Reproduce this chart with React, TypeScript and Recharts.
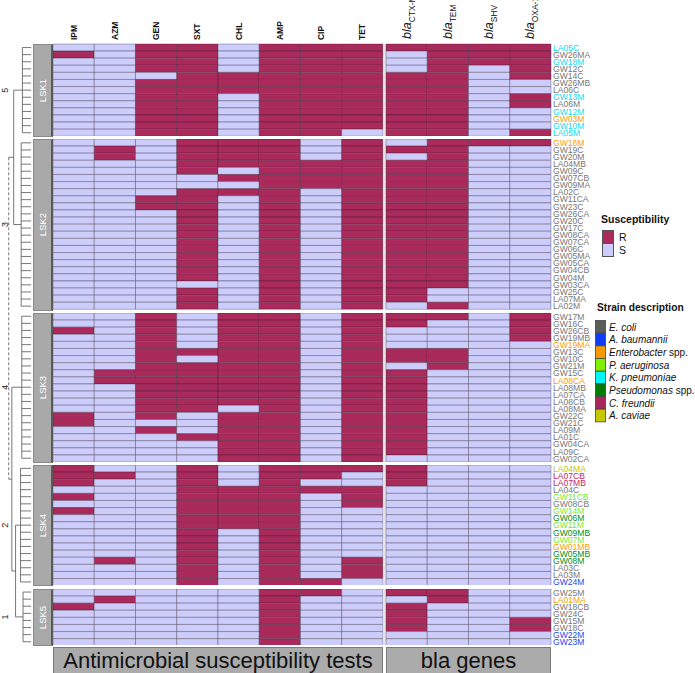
import React from 'react';
import { BarChart, Bar, XAxis, YAxis, Cell, ScatterChart, Scatter, ReferenceLine } from 'recharts';

// column order: antimicrobials first, then bla genes
const drugs = ['IPM', 'AZM', 'GEN', 'SXT', 'CHL', 'AMP', 'CIP', 'TET'];
const genes = ['CTX-M', 'TEM', 'SHV', 'OXA-1'];

const speciesKeys = ['Ec', 'Ab', 'Eb', 'Pa', 'Kp', 'Ps', 'Cf', 'Ac'];
const speciesNames = ['E. coli', 'A. baumannii', 'Enterobacter spp.', 'P. aeruginosa', 'K. pneumoniae', 'Pseudomonas spp.', 'C. freundii', 'A. caviae'];
const speciesBoxColors = ['#5c5c5c', '#0f3cf5', '#f59a00', '#7ff000', '#00f5f5', '#007d00', '#a8275a', '#c8c800'];
const speciesTextColors = ['#777777', '#1f45f0', '#f5a000', '#7fe81a', '#14dcec', '#0b8a0b', '#c0285e', '#c4c400'];

// strains per cluster (top to bottom), species code and R/S profile (drugs / genes)
const lsk1Strains = ['LA05C', 'GW26MA', 'GW18M', 'GW12C', 'GW14C', 'GW26MB', 'LA06C', 'GW13M', 'LA06M', 'GW12M', 'GW03M', 'GW10M', 'LA05M'];
const lsk1Species = ['Kp', 'Ec', 'Kp', 'Ec', 'Ec', 'Ec', 'Ec', 'Kp', 'Ec', 'Kp', 'Eb', 'Kp', 'Kp'];
const lsk1Profiles = [
  'SSRRSRRR/RRRR', 'RSRRSRRR/SRRR', 'SSRRSRRR/SRRR', 'SSRRSRRR/SRSR', 'SSSRRRRR/RRSR',
  'SSRRRRRR/RRSS', 'SSRRRRRR/RRSS', 'SSRRSRRR/RRSR', 'SSRRSRRR/RRSR', 'SSRRSRRR/RRSS',
  'SSRRSRRR/RRSS', 'SSRRSRRR/RRSS', 'SSRRSRRS/RRSR',
];

const lsk2Strains = ['GW16M', 'GW19C', 'GW20M', 'LA04MB', 'GW09C', 'GW07CB', 'GW09MA', 'LA02C', 'GW11CA', 'GW23C', 'GW26CA', 'GW20C', 'GW17C', 'GW08CA', 'GW07CA', 'GW06C', 'GW05MA', 'GW05CA', 'GW04CB', 'GW04M', 'GW03CA', 'GW25C', 'LA07MA', 'LA02M'];
const lsk2Species = ['Eb', 'Ec', 'Ec', 'Ec', 'Ec', 'Ec', 'Ec', 'Ec', 'Ec', 'Ec', 'Ec', 'Ec', 'Ec', 'Ec', 'Ec', 'Ec', 'Ec', 'Ec', 'Ec', 'Ec', 'Ec', 'Ec', 'Ec', 'Ec'];
const lsk2Profiles = [
  'SSSRRRSR/SRRR', 'SRSRRRSR/RRSS', 'SRSRRRSR/SRSS', 'SSSRRRRR/RRSS', 'SSSRSRRR/RRSS',
  'SSSSRRRR/RRSS', 'SSSSSRRR/RRSS', 'SSSRRRSR/RRSS', 'SSRRSRSR/RRSS', 'SSRRSRSR/RRSS',
  'SSSRSRSR/RRSS', 'SSSRSRSR/RRSS', 'SSSRSRSR/RRSS', 'SSSRSRSR/RRSS', 'SSSRSRSR/RRSS',
  'SSSRSRSR/RRSS', 'SSSRSRSR/RRSS', 'SSSRSRSR/RRSS', 'SSSRSRSR/RRSS', 'SSSRSRSR/RRSS',
  'SSSSSRSR/RRSS', 'SSSRSRSR/RSSS', 'SSSRSRSR/RSSS', 'SSSRSRSR/SRSS',
];

const lsk3Strains = ['GW17M', 'GW16C', 'GW26CB', 'GW19MB', 'GW19MA', 'GW13C', 'GW10C', 'GW21M', 'GW15C', 'LA08CA', 'LA08MB', 'LA07CA', 'LA08CB', 'LA08MA', 'GW22C', 'GW21C', 'LA09M', 'LA01C', 'GW04CA', 'LA09C', 'GW02CA'];
const lsk3Species = ['Ec', 'Ec', 'Ec', 'Ec', 'Eb', 'Ec', 'Ec', 'Ec', 'Ec', 'Eb', 'Ec', 'Ec', 'Ec', 'Ec', 'Ec', 'Ec', 'Ec', 'Ec', 'Ec', 'Ec', 'Ec'];
const lsk3Profiles = [
  'SSRSRRSR/RRSR', 'SSRSRRSR/RSSR', 'RSRSRRSR/SSSR', 'SSRSRRSR/SSSR', 'SSRSRRSR/SSSS',
  'SSRRRRSR/RRSS', 'SSRSRRSR/RRSS', 'SSRRRRSR/SRSS', 'SRRRRRSR/RSSS', 'SRRRRRSR/RSSS',
  'SSRRRRSR/RSSS', 'SSRRRRSR/RSSS', 'SSRRRRSR/RSSS', 'SSRRSRSR/RSSS', 'RSRSRRSR/RSSS',
  'RSSSRRSR/RSSS', 'SSRSRRSR/RSSS', 'SSSRRRSR/RSSS', 'SSSSRRSR/RSSS', 'SSSSRRSR/RSSS',
  'SSSSRRSR/SSSS',
];

const lsk4Strains = ['LA04MA', 'LA07CB', 'LA07MB', 'LA04C', 'GW11CB', 'GW08CB', 'GW14M', 'GW06M', 'GW11M', 'GW09MB', 'GW07M', 'GW01MB', 'GW05MB', 'GW08M', 'LA03C', 'LA03M', 'GW24M'];
const lsk4Species = ['Ac', 'Cf', 'Cf', 'Ec', 'Pa', 'Ec', 'Pa', 'Ps', 'Pa', 'Ps', 'Pa', 'Eb', 'Ps', 'Ps', 'Ec', 'Ec', 'Ab'];
const lsk4Profiles = [
  'RSSRSRRR/RSSS', 'RRSRSRRS/RSSS', 'RSSRSRSS/RSSS', 'SSSRRRRR/SSSS', 'RSSRRRSR/SSSS',
  'SSSRRRSR/SSSS', 'RSSRRRSS/SSSS', 'SSSRRRSS/SSSS', 'SSSRRRSS/SSSS', 'SSSRSRSS/SSSS',
  'SSSRSRSS/SSSS', 'SSSRSRSS/SSSS', 'SSSRSRSS/SSSS', 'SRSRSRSR/SSSS', 'SSSRSRSR/SSSS',
  'SSSRSRSR/SSSS', 'SSSRSRRS/SSSS',
];

const lsk5Strains = ['GW25M', 'LA01MA', 'GW18CB', 'GW24C', 'GW15M', 'GW18C', 'GW22M', 'GW23M'];
const lsk5Species = ['Ec', 'Eb', 'Ec', 'Ec', 'Ec', 'Ec', 'Ab', 'Ab'];
const lsk5Profiles = [
  'SSSSSRRS/RRSS', 'SRSSSRSS/SRSS', 'RSSSSRSS/RSSS', 'SSSSSRSS/RSSS', 'SSSSSRSS/RSSR',
  'SSSSSRSS/RSSR', 'SSSSSRSS/SSSS', 'SSSSSRSS/SSSS',
];

// cluster number shown on the dendrogram, per LSK cluster
const clusterLabels = ['LSK1', 'LSK2', 'LSK3', 'LSK4', 'LSK5'];
const clusterNumbers = ['5', '3', '4', '2', '1'];
// merge heights: inside each cluster, then between clusters
const clusterHeights = [2.8, 3.2, 3.0, 3.4, 2.6];
const joinHeights = { lsk12: 5.6, lsk45: 5.0, lsk345: 6.2, root: 7.2 };
const TAG_H = 8.5;

const RED = '#aa2a5b';
const LAV = '#cdcdfc';
const GAP = 0.075; // spacer between the two blocks, in cell widths
const ROW_H = 7.1;
const CL_GAP = 3;
const HEADER_H = 44;
const HEAT_LEFT = 53;
const HEAT_W = 498;
const LABEL_W = 44;
const FONT = '"Liberation Sans", Arial, Helvetica, sans-serif';

const clusters = [
  { strains: lsk1Strains, species: lsk1Species, profiles: lsk1Profiles },
  { strains: lsk2Strains, species: lsk2Species, profiles: lsk2Profiles },
  { strains: lsk3Strains, species: lsk3Species, profiles: lsk3Profiles },
  { strains: lsk4Strains, species: lsk4Species, profiles: lsk4Profiles },
  { strains: lsk5Strains, species: lsk5Species, profiles: lsk5Profiles },
];

const speciesOf: Record<string, string> = {};
clusters.forEach((c) => c.strains.forEach((s, i) => (speciesOf[s] = c.species[i])));

const clusterTops: number[] = [];
clusters.reduce((y, c) => {
  clusterTops.push(y);
  return y + c.strains.length * ROW_H + CL_GAP;
}, HEADER_H);

const colCenters = [
  ...drugs.map((_, i) => i + 0.5),
  ...genes.map((_, i) => drugs.length + GAP + i + 0.5),
];

const HeaderTick = (props: any) => {
  const { x, y, payload } = props;
  let idx = 0;
  colCenters.forEach((c, i) => {
    if (Math.abs(c - payload.value) < Math.abs(colCenters[idx] - payload.value)) idx = i;
  });
  if (idx < drugs.length) {
    return (
      <text x={x} y={y} transform={`rotate(-90 ${x} ${y})`} textAnchor="start" dominantBaseline="central"
        fontSize={8.5} fontWeight="bold" fill="#111">{drugs[idx]}</text>
    );
  }
  return (
    <text x={x} y={y - 1} transform={`rotate(-90 ${x} ${y - 1})`} textAnchor="start" dominantBaseline="central" fill="#111">
      <tspan fontStyle="italic" fontSize={12.5}>bla</tspan>
      <tspan fontSize={8.5} baselineShift="sub">{genes[idx - drugs.length]}</tspan>
    </text>
  );
};

const StrainTick = (props: any) => {
  const { x, y, payload } = props;
  const k = speciesKeys.indexOf(speciesOf[payload.value]);
  return (
    <text x={x} y={y} dy="0.36em" textAnchor="start" fontSize={8.6} fill={speciesTextColors[k]}>{payload.value}</text>
  );
};

function ClusterHeat({ index }: { index: number }) {
  const c = clusters[index];
  const first = index === 0;
  const data = c.strains.map((name, r) => {
    const row: any = { name, gap: GAP };
    const cells = c.profiles[r].replace('/', '');
    for (let k = 0; k < cells.length; k++) row['c' + k] = 1;
    return row;
  });
  const height = c.strains.length * ROW_H + (first ? HEADER_H : 0);
  const cellColor = (r: number, k: number) => (c.profiles[r].replace('/', '')[k] === 'R' ? RED : LAV);
  const bars = (from: number, to: number) =>
    Array.from({ length: to - from }, (_, j) => from + j).map((k) => (
      <Bar key={k} dataKey={'c' + k} stackId="s" isAnimationActive={false}
        stroke="#2a1a2e" strokeOpacity={0.45} strokeWidth={0.7}>
        {data.map((_, r) => <Cell key={r} fill={cellColor(r, k)} />)}
      </Bar>
    ));
  return (
    <div style={{ position: 'absolute', left: HEAT_LEFT, top: first ? 0 : clusterTops[index] }}>
      <BarChart layout="vertical" width={HEAT_W + LABEL_W} height={height} data={data}
        margin={{ top: 0, right: 0, bottom: 0, left: 0 }} barCategoryGap={0} style={{ overflow: 'visible' }}>
        <XAxis type="number" domain={[0, drugs.length + genes.length + GAP]} hide={!first} orientation="top"
          ticks={colCenters} interval={0} height={HEADER_H} tickSize={0} tickMargin={4} axisLine={false}
          tick={<HeaderTick />} />
        <YAxis type="category" dataKey="name" orientation="right" width={LABEL_W} axisLine={false}
          tickLine={false} tickSize={0} tickMargin={2} interval={0} tick={<StrainTick />} />
        {bars(0, drugs.length)}
        <Bar dataKey="gap" stackId="s" fill="#e4e4e4" isAnimationActive={false} />
        {bars(drugs.length, drugs.length + genes.length)}
      </BarChart>
    </div>
  );
}

// dendrogram: leaf y positions share the heatmap row layout
type Node = { h: number; kids: (Node | number)[]; tag?: string; dashed?: boolean };

const leafY: number[] = [];
clusters.forEach((c, ci) => c.strains.forEach((_, r) => leafY.push(clusterTops[ci] - HEADER_H + (r + 0.5) * ROW_H)));

let offset = 0;
const clusterNodes: Node[] = clusters.map((c, ci) => {
  const kids = c.strains.map((_, r) => offset + r);
  offset += c.strains.length;
  return { h: clusterHeights[ci], kids, tag: clusterNumbers[ci] };
});
const tree: Node = {
  h: joinHeights.root,
  dashed: true,
  kids: [
    { h: joinHeights.lsk12, kids: [clusterNodes[0], clusterNodes[1]] },
    { h: joinHeights.lsk345, kids: [clusterNodes[2], { h: joinHeights.lsk45, kids: [clusterNodes[3], clusterNodes[4]] }] },
  ],
};

type Seg = { x1: number; y1: number; x2: number; y2: number; dashed?: boolean };
const segs: Seg[] = [];
const tags: { x: number; y: number; t: string }[] = [];
function walk(n: Node | number): { h: number; y: number } {
  if (typeof n === 'number') return { h: 0, y: leafY[n] };
  const pts = n.kids.map(walk);
  pts.forEach((p) => segs.push({ x1: p.h, y1: p.y, x2: n.h, y2: p.y }));
  const ys = pts.map((p) => p.y);
  segs.push({ x1: n.h, y1: Math.min(...ys), x2: n.h, y2: Math.max(...ys), dashed: n.dashed });
  const y = (Math.min(...ys) + Math.max(...ys)) / 2;
  if (n.tag) tags.push({ x: TAG_H, y, t: n.tag });
  return { h: n.h, y };
}
walk(tree);

const heatSpan = clusterTops[4] + lsk5Strains.length * ROW_H - HEADER_H;

function Dendrogram() {
  return (
    <div style={{ position: 'absolute', left: 0, top: HEADER_H }}>
      <ScatterChart width={33} height={heatSpan} margin={{ top: 0, right: 0, bottom: 0, left: 0 }}>
        <XAxis type="number" dataKey="x" domain={[-0.6, 10]} reversed hide />
        <YAxis type="number" dataKey="y" domain={[0, heatSpan]} reversed hide />
        {segs.map((s, i) => (
          <ReferenceLine key={i} segment={[{ x: s.x1, y: s.y1 }, { x: s.x2, y: s.y2 }]}
            stroke="#555" strokeWidth={0.8} strokeDasharray={s.dashed ? '3 2' : undefined} ifOverflow="visible" />
        ))}
        <Scatter data={tags} isAnimationActive={false}
          shape={(p: any) => (
            <text x={p.cx} y={p.cy} transform={`rotate(-90 ${p.cx} ${p.cy})`} textAnchor="middle"
              dominantBaseline="central" fontSize={9} fill="#222">{p.payload.t}</text>
          )} />
      </ScatterChart>
    </div>
  );
}

function ClusterBox({ index }: { index: number }) {
  const h = clusters[index].strains.length * ROW_H;
  return (
    <div style={{
      position: 'absolute', left: 33, top: clusterTops[index], width: 17, height: h - 1,
      background: '#a9a9a9', border: '1px solid #8a8a8a', borderRight: '2px solid #5a5a5a',
      display: 'flex', alignItems: 'center', justifyContent: 'center',
    }}>
      <span style={{ transform: 'rotate(-90deg)', color: '#fff', fontSize: 9.5, whiteSpace: 'nowrap' }}>
        {clusterLabels[index]}
      </span>
    </div>
  );
}

function Legend() {
  const plain = (name: string) => name.endsWith(' spp.');
  return (
    <svg width={105} height={225} style={{ position: 'absolute', left: 592, top: 205 }}>
      <text x={9} y={18} fontSize={10.5} fontWeight="bold" fill="#111">Susceptibility</text>
      {[RED, LAV].map((col, i) => (
        <g key={i}>
          <rect x={10.5} y={25.5 + i * 13} width={11} height={13} fill={col} stroke="#555" strokeWidth={1} />
          <text x={27} y={36 + i * 13} fontSize={10.5} fill="#111">{i === 0 ? 'R' : 'S'}</text>
        </g>
      ))}
      <text x={5} y={106} fontSize={10.2} fontWeight="bold" fill="#111">Strain description</text>
      {speciesNames.map((name, i) => (
        <g key={name}>
          <rect x={3.5} y={115.5 + i * 12.67} width={10} height={12.67} fill={speciesBoxColors[i]} stroke="#444" strokeWidth={0.8} />
          <text x={17} y={125.5 + i * 12.67} fontSize={10} fill="#111">
            {plain(name) ? (
              <>
                <tspan fontStyle="italic">{name.replace(' spp.', '')}</tspan>
                <tspan> spp.</tspan>
              </>
            ) : (
              <tspan fontStyle="italic">{name}</tspan>
            )}
          </text>
        </g>
      ))}
    </svg>
  );
}

export default function App() {
  const bottom = clusterTops[4] + lsk5Strains.length * ROW_H + 2;
  const blockW = HEAT_W / (drugs.length + genes.length + GAP);
  const boxStyle: React.CSSProperties = {
    position: 'absolute', top: bottom, height: 27, background: '#ababab', border: '1px solid #7a7a7a',
    display: 'flex', alignItems: 'center', justifyContent: 'center', fontSize: 22, color: '#111',
    boxSizing: 'border-box',
  };
  return (
    <div style={{ position: 'absolute', left: 0, top: 0, width: 695, height: 673, background: '#fff', fontFamily: FONT, overflow: 'hidden' }}>
      <Dendrogram />
      {clusters.map((_, i) => <ClusterBox key={i} index={i} />)}
      {clusters.map((_, i) => <ClusterHeat key={i} index={i} />)}
      <div style={{ ...boxStyle, left: HEAT_LEFT, width: blockW * drugs.length }}>Antimicrobial susceptibility tests</div>
      <div style={{ ...boxStyle, left: HEAT_LEFT + blockW * (drugs.length + GAP), width: blockW * genes.length }}>bla genes</div>
      <Legend />
    </div>
  );
}
